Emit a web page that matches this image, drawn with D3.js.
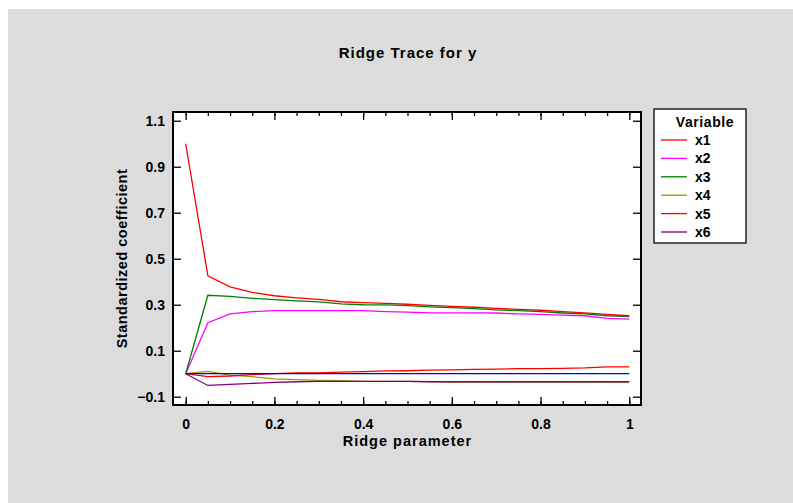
<!DOCTYPE html>
<html><head><meta charset="utf-8">
<script src="https://cdn.jsdelivr.net/npm/d3@7"></script>
<style>body{margin:0;background:#fff}svg text{font-family:"Liberation Sans",Arial,sans-serif;font-weight:bold;fill:#000}</style>
</head><body><svg id="c" width="793" height="503"></svg>
<script>
const ridge = [0,0.05,0.1,0.15,0.2,0.25,0.3,0.35,0.4,0.45,0.5,0.55,0.6,0.65,0.7,0.75,0.8,0.85,0.9,0.95,1.0];
const x1 = [1.0,0.426,0.378,0.354,0.339,0.330,0.323,0.313,0.309,0.306,0.302,0.297,0.293,0.289,0.284,0.280,0.276,0.270,0.265,0.258,0.252];
const x2 = [0,0.222,0.260,0.270,0.274,0.274,0.274,0.274,0.274,0.270,0.268,0.265,0.265,0.265,0.264,0.260,0.258,0.255,0.252,0.241,0.237];
const x3 = [0,0.341,0.336,0.328,0.322,0.317,0.312,0.304,0.300,0.299,0.296,0.291,0.287,0.283,0.278,0.274,0.270,0.264,0.260,0.252,0.248];
const x4 = [0,0.010,-0.006,-0.013,-0.022,-0.026,-0.029,-0.030,-0.033,-0.033,-0.033,-0.034,-0.036,-0.036,-0.036,-0.036,-0.036,-0.036,-0.036,-0.036,-0.036];
const x5 = [0,-0.013,-0.010,-0.004,0,0.004,0.004,0.007,0.009,0.012,0.013,0.016,0.017,0.019,0.020,0.022,0.022,0.023,0.025,0.030,0.030];
const x6 = [0,-0.051,-0.046,-0.042,-0.038,-0.035,-0.033,-0.033,-0.033,-0.033,-0.033,-0.035,-0.035,-0.035,-0.035,-0.035,-0.035,-0.035,-0.035,-0.035,-0.035];
const seriesNames = ["x1","x2","x3","x4","x5","x6"];
const seriesColors = ["#ff0000","#ff00ff","#008000","#999900","#ff0000","#800080"];
const xTicks = [0,0.2,0.4,0.6,0.8,1];
const yTicks = [-0.1,0.1,0.3,0.5,0.7,0.9,1.1];

const svg = d3.select("#c");
svg.append("rect").attr("x",8).attr("y",9).attr("width",785).attr("height",494).attr("fill","#dcdcdc");

const L=173,R=641,T=112,B=405;
const x = d3.scaleLinear().domain([-0.0286,1.0264]).range([L,R]);
const y = d3.scaleLinear().domain([-0.136,1.138]).range([B,T]);

svg.append("rect").attr("x",L).attr("y",T).attr("width",R-L).attr("height",B-T).attr("fill","#fff");

const all=[x1,x2,x3,x4,x5,x6];
const line = d3.line().x((d,i)=>x(ridge[i])).y(d=>y(d));
all.forEach((s,k)=>{
  svg.append("path").datum(s).attr("d",line).attr("fill","none").attr("stroke",seriesColors[k]).attr("stroke-width",1.3);
});
// zero reference line
svg.append("path").datum(ridge.map(()=>0)).attr("d",line).attr("fill","none").attr("stroke","#0000ff").attr("stroke-width",1.3);

// axes
const minor = d3.range(0,1.0001,0.05);
const gB = svg.append("g").attr("transform",`translate(0,${B})`)
  .call(d3.axisBottom(x).tickValues(minor).tickSize(-4).tickFormat(""));
gB.select(".domain").remove();
const gB2 = svg.append("g").attr("transform",`translate(0,${B})`)
  .call(d3.axisBottom(x).tickValues(xTicks).tickSize(-8).tickPadding(14).tickFormat(d3.format("")));
gB2.select(".domain").remove();
gB2.selectAll("text").attr("font-size",14).attr("dy","0.71em");
const gT = svg.append("g").attr("transform",`translate(0,${T})`)
  .call(d3.axisTop(x).tickValues(minor).tickSize(-4).tickFormat(""));
gT.select(".domain").remove();
const gT2 = svg.append("g").attr("transform",`translate(0,${T})`)
  .call(d3.axisTop(x).tickValues(xTicks).tickSize(-8).tickFormat(""));
gT2.select(".domain").remove();
const gL = svg.append("g").attr("transform",`translate(${L},0)`)
  .call(d3.axisLeft(y).tickValues(yTicks).tickSize(-8).tickPadding(8).tickFormat(d3.format(".1f")));
gL.select(".domain").remove();
gL.selectAll("text").attr("font-size",14);
const gR = svg.append("g").attr("transform",`translate(${R},0)`)
  .call(d3.axisRight(y).tickValues(yTicks).tickSize(-8).tickFormat(""));
gR.select(".domain").remove();
svg.selectAll(".tick line").attr("stroke","#000").attr("stroke-width",1.3);
svg.selectAll(".tick text").style("font-family","Liberation Sans, Arial, sans-serif").style("font-weight","bold").attr("fill","#000");

svg.append("rect").attr("x",L).attr("y",T).attr("width",R-L).attr("height",B-T).attr("fill","none").attr("stroke","#000").attr("stroke-width",2);

svg.append("text").attr("x",408).attr("y",58).attr("text-anchor","middle").attr("font-size",15).attr("letter-spacing",1).text("Ridge Trace for y");
svg.append("text").attr("x",(x(0)+x(1))/2).attr("y",446).attr("text-anchor","middle").attr("font-size",14.5).attr("letter-spacing",1).text("Ridge parameter");
svg.append("text").attr("transform",`translate(127,${(T+B)/2}) rotate(-90)`).attr("text-anchor","middle").attr("font-size",14.5).attr("letter-spacing",0.5).text("Standardized coefficient");

// legend
const lg = svg.append("g");
lg.append("rect").attr("x",654).attr("y",109).attr("width",92).attr("height",134).attr("fill","#fff").attr("stroke","#222").attr("stroke-width",1.5);
lg.append("text").attr("x",705).attr("y",127).attr("text-anchor","middle").attr("font-size",14).attr("letter-spacing",0.6).text("Variable");
seriesNames.forEach((n,i)=>{
  const yy = 140 + i*18.4;
  lg.append("line").attr("x1",661).attr("x2",687).attr("y1",yy).attr("y2",yy).attr("stroke",seriesColors[i]).attr("stroke-width",1.3);
  lg.append("text").attr("x",695).attr("y",yy+5).attr("font-size",14).text(n);
});
</script></body></html>
